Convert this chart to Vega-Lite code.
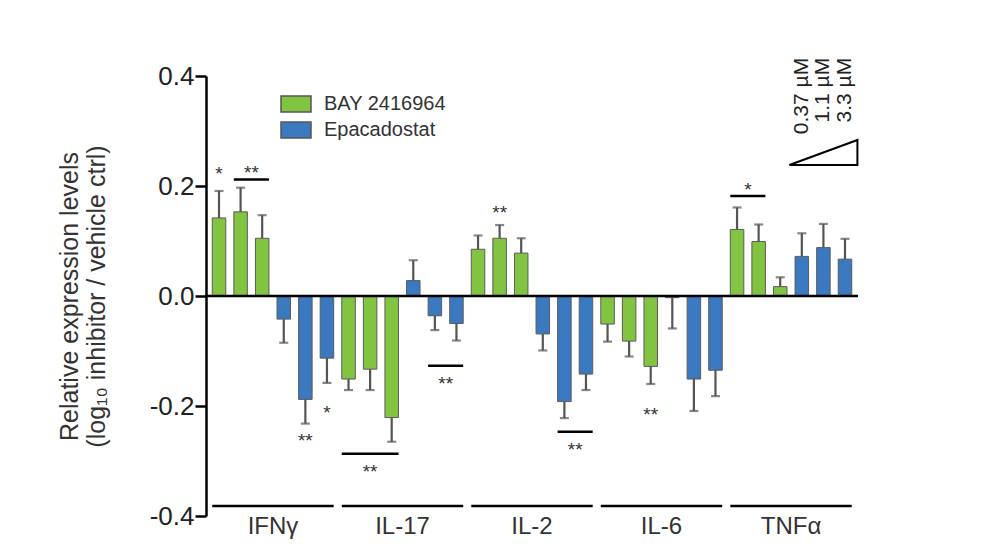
{
  "$schema": "https://vega.github.io/schema/vega-lite/v6.json",
  "width": 652,
  "height": 440,
  "autosize": {"type": "none"},
  "padding": {"left": 206, "top": 76, "right": 125, "bottom": 38},
  "background": "white",
  "config": {"view": {"stroke": null}, "font": "Liberation Sans"},
  "datasets": {
    "bars": [
      {"key": "IFNγ-B1", "drug": "BAY 2416964", "value": 0.142, "errEnd": 0.191},
      {"key": "IFNγ-B2", "drug": "BAY 2416964", "value": 0.153, "errEnd": 0.197},
      {"key": "IFNγ-B3", "drug": "BAY 2416964", "value": 0.105, "errEnd": 0.147},
      {"key": "IFNγ-E1", "drug": "Epacadostat", "value": -0.042, "errEnd": -0.085},
      {"key": "IFNγ-E2", "drug": "Epacadostat", "value": -0.188, "errEnd": -0.232},
      {"key": "IFNγ-E3", "drug": "Epacadostat", "value": -0.113, "errEnd": -0.158},
      {"key": "IL-17-B1", "drug": "BAY 2416964", "value": -0.151, "errEnd": -0.171},
      {"key": "IL-17-B2", "drug": "BAY 2416964", "value": -0.133, "errEnd": -0.171},
      {"key": "IL-17-B3", "drug": "BAY 2416964", "value": -0.221, "errEnd": -0.265},
      {"key": "IL-17-E1", "drug": "Epacadostat", "value": 0.028, "errEnd": 0.065},
      {"key": "IL-17-E2", "drug": "Epacadostat", "value": -0.036, "errEnd": -0.062},
      {"key": "IL-17-E3", "drug": "Epacadostat", "value": -0.05, "errEnd": -0.081},
      {"key": "IL-2-B1", "drug": "BAY 2416964", "value": 0.085, "errEnd": 0.11},
      {"key": "IL-2-B2", "drug": "BAY 2416964", "value": 0.105, "errEnd": 0.129},
      {"key": "IL-2-B3", "drug": "BAY 2416964", "value": 0.078, "errEnd": 0.105},
      {"key": "IL-2-E1", "drug": "Epacadostat", "value": -0.069, "errEnd": -0.099},
      {"key": "IL-2-E2", "drug": "Epacadostat", "value": -0.192, "errEnd": -0.222},
      {"key": "IL-2-E3", "drug": "Epacadostat", "value": -0.142, "errEnd": -0.171},
      {"key": "IL-6-B1", "drug": "BAY 2416964", "value": -0.051, "errEnd": -0.083},
      {"key": "IL-6-B2", "drug": "BAY 2416964", "value": -0.082, "errEnd": -0.11},
      {"key": "IL-6-B3", "drug": "BAY 2416964", "value": -0.128, "errEnd": -0.16},
      {"key": "IL-6-E1", "drug": "Epacadostat", "value": -0.003, "errEnd": -0.059},
      {"key": "IL-6-E2", "drug": "Epacadostat", "value": -0.151, "errEnd": -0.209},
      {"key": "IL-6-E3", "drug": "Epacadostat", "value": -0.135, "errEnd": -0.182},
      {"key": "TNFα-B1", "drug": "BAY 2416964", "value": 0.121, "errEnd": 0.161},
      {"key": "TNFα-B2", "drug": "BAY 2416964", "value": 0.099, "errEnd": 0.13},
      {"key": "TNFα-B3", "drug": "BAY 2416964", "value": 0.017, "errEnd": 0.034},
      {"key": "TNFα-E1", "drug": "Epacadostat", "value": 0.072, "errEnd": 0.114},
      {"key": "TNFα-E2", "drug": "Epacadostat", "value": 0.088, "errEnd": 0.131},
      {"key": "TNFα-E3", "drug": "Epacadostat", "value": 0.067, "errEnd": 0.104}
    ],
    "sig": [
      {"key": "IFNγ-B1", "to": "IFNγ-B1", "line": null, "star": "*", "tkey": "IFNγ-B1", "sy": 0.222, "pos": "on"},
      {"key": "IFNγ-B2", "to": "IFNγ-B3", "line": 0.212, "star": "**", "tkey": "IFNγ-B2", "sy": 0.2236, "pos": "between"},
      {"key": "IFNγ-E2", "to": "IFNγ-E2", "line": null, "star": "**", "tkey": "IFNγ-E2", "sy": -0.263, "pos": "on"},
      {"key": "IFNγ-E3", "to": "IFNγ-E3", "line": null, "star": "*", "tkey": "IFNγ-E3", "sy": -0.213, "pos": "on"},
      {"key": "IL-17-B1", "to": "IL-17-B3", "line": -0.287, "star": "**", "tkey": "IL-17-B2", "sy": -0.32, "pos": "on"},
      {"key": "IL-17-E2", "to": "IL-17-E3", "line": -0.127, "star": "**", "tkey": "IL-17-E2", "sy": -0.16, "pos": "between"},
      {"key": "IL-2-B2", "to": "IL-2-B2", "line": null, "star": "**", "tkey": "IL-2-B2", "sy": 0.151, "pos": "on"},
      {"key": "IL-2-E2", "to": "IL-2-E3", "line": -0.247, "star": "**", "tkey": "IL-2-E2", "sy": -0.28, "pos": "between"},
      {"key": "IL-6-B3", "to": "IL-6-B3", "line": null, "star": "**", "tkey": "IL-6-B3", "sy": -0.216, "pos": "on"},
      {"key": "TNFα-B1", "to": "TNFα-B2", "line": 0.182, "star": "*", "tkey": "TNFα-B1", "sy": 0.193, "pos": "between"}
    ],
    "groups": [
      {"cyto": "IFNγ", "key": "IFNγ-B1", "last": "IFNγ-E3", "lkey": "IFNγ-B3"},
      {"cyto": "IL-17", "key": "IL-17-B1", "last": "IL-17-E3", "lkey": "IL-17-B3"},
      {"cyto": "IL-2", "key": "IL-2-B1", "last": "IL-2-E3", "lkey": "IL-2-B3"},
      {"cyto": "IL-6", "key": "IL-6-B1", "last": "IL-6-E3", "lkey": "IL-6-B3"},
      {"cyto": "TNFα", "key": "TNFα-B1", "last": "TNFα-E3", "lkey": "TNFα-B3"}
    ],
    "doses": [
      {"dose": "0.37 µM", "key": "TNFα-E1"},
      {"dose": "1.1 µM", "key": "TNFα-E2"},
      {"dose": "3.3 µM", "key": "TNFα-E3"}
    ],
    "triangle": [
      {"key": "TNFα-E2", "label": "dose"}
    ]
  },
  "layer": [
    {
      "data": {"name": "bars"},
      "mark": {"type": "bar", "stroke": "#5c5c5c", "strokeWidth": 1},
      "encoding": {
        "x": {"field": "key", "type": "nominal", "axis": null,
          "scale": {"domain": ["IFNγ-B1","IFNγ-B2","IFNγ-B3","IFNγ-E1","IFNγ-E2","IFNγ-E3","IL-17-B1","IL-17-B2","IL-17-B3","IL-17-E1","IL-17-E2","IL-17-E3","IL-2-B1","IL-2-B2","IL-2-B3","IL-2-E1","IL-2-E2","IL-2-E3","IL-6-B1","IL-6-B2","IL-6-B3","IL-6-E1","IL-6-E2","IL-6-E3","TNFα-B1","TNFα-B2","TNFα-B3","TNFα-E1","TNFα-E2","TNFα-E3"], "paddingInner": 0.374, "paddingOuter": 0.29}},
        "y": {"field": "value", "type": "quantitative",
          "scale": {"domain": [-0.4, 0.4], "nice": false, "zero": false},
          "axis": {"values": [-0.4, -0.2, 0, 0.2, 0.4],
            "labelExpr": "datum.value < 0 ? '-' + format(-datum.value, '.1f') : format(datum.value, '.1f')",
            "labelFontSize": 26, "labelColor": "#222", "labelPadding": 1, "labelFont": "Liberation Sans",
            "tickSize": 11, "tickWidth": 2.5, "tickColor": "black",
            "domainColor": "black", "domainWidth": 2.5, "grid": false,
            "title": ["Relative expression levels", "(log₁₀ inhibitor / vehicle ctrl)"],
            "titleFontSize": 25, "titleFontWeight": "normal", "titleColor": "#333", "titleFont": "Liberation Sans",
            "titlePadding": 40, "titleLineHeight": 27}},
        "color": {"field": "drug", "type": "nominal",
          "scale": {"domain": ["BAY 2416964", "Epacadostat"], "range": ["#82C341", "#3A78BF"]},
          "legend": {"orient": "none", "legendX": 75.5, "legendY": 13.5, "title": null,
            "symbolType": "M-1.111,-0.593H1.111V0.593H-1.111Z", "symbolSize": 729,
            "symbolStrokeColor": "#555", "symbolStrokeWidth": 1.5, "symbolOpacity": 1,
            "labelFontSize": 20, "labelColor": "#333", "labelFont": "Liberation Sans",
            "labelOffset": 13.5, "rowPadding": 0}}
      }
    },
    {
      "data": {"name": "bars"},
      "mark": {"type": "rule", "color": "#555", "strokeWidth": 2.2},
      "encoding": {
        "x": {"field": "key", "type": "nominal", "axis": null},
        "y": {"field": "value", "type": "quantitative"},
        "y2": {"field": "errEnd"}
      }
    },
    {
      "data": {"name": "bars"},
      "mark": {"type": "tick", "color": "#555", "thickness": 2.2, "size": 9, "orient": "horizontal"},
      "encoding": {
        "x": {"field": "key", "type": "nominal", "axis": null},
        "y": {"field": "errEnd", "type": "quantitative"}
      }
    },
    {
      "data": {"values": [{}]},
      "mark": {"type": "rule", "color": "black", "strokeWidth": 2.5},
      "encoding": {"y": {"datum": 0, "type": "quantitative"}}
    },
    {
      "data": {"name": "sig"},
      "transform": [{"filter": "datum.line != null"}],
      "mark": {"type": "rule", "color": "black", "strokeWidth": 2.5},
      "encoding": {
        "x": {"field": "key", "type": "nominal", "bandPosition": 0, "axis": null},
        "x2": {"field": "to", "bandPosition": 1},
        "y": {"field": "line", "type": "quantitative"}
      }
    },
    {
      "data": {"name": "sig"},
      "transform": [{"filter": "datum.pos == 'on'"}],
      "mark": {"type": "text", "fontSize": 19, "color": "#333", "baseline": "middle", "align": "center"},
      "encoding": {
        "x": {"field": "tkey", "type": "nominal", "axis": null},
        "y": {"field": "sy", "type": "quantitative"},
        "text": {"field": "star"}
      }
    },
    {
      "data": {"name": "sig"},
      "transform": [{"filter": "datum.pos == 'between'"}],
      "mark": {"type": "text", "fontSize": 19, "color": "#333", "baseline": "middle", "align": "center"},
      "encoding": {
        "x": {"field": "tkey", "type": "nominal", "bandPosition": 1.3, "axis": null},
        "y": {"field": "sy", "type": "quantitative"},
        "text": {"field": "star"}
      }
    },
    {
      "data": {"name": "groups"},
      "mark": {"type": "rule", "color": "black", "strokeWidth": 2.5},
      "encoding": {
        "x": {"field": "key", "type": "nominal", "bandPosition": 0, "axis": null},
        "x2": {"field": "last", "bandPosition": 1},
        "y": {"datum": -0.382, "type": "quantitative"}
      }
    },
    {
      "data": {"name": "groups"},
      "mark": {"type": "text", "fontSize": 24, "color": "#333", "baseline": "middle", "align": "center"},
      "encoding": {
        "x": {"field": "lkey", "type": "nominal", "bandPosition": 1.3, "axis": null},
        "y": {"datum": -0.42, "type": "quantitative"},
        "text": {"field": "cyto"}
      }
    },
    {
      "data": {"name": "doses"},
      "mark": {"type": "text", "fontSize": 21, "color": "#222", "angle": 270, "align": "right", "baseline": "middle"},
      "encoding": {
        "x": {"field": "key", "type": "nominal", "axis": null},
        "y": {"datum": 0.433, "type": "quantitative"},
        "text": {"field": "dose"}
      }
    },
    {
      "data": {"name": "triangle"},
      "mark": {"type": "point", "shape": "M-1,0.368L1,0.368L1,-0.368Z", "size": 4624, "filled": false, "stroke": "black", "strokeWidth": 2, "opacity": 1},
      "encoding": {
        "x": {"field": "key", "type": "nominal", "axis": null},
        "y": {"datum": 0.261, "type": "quantitative"}
      }
    }
  ]
}
